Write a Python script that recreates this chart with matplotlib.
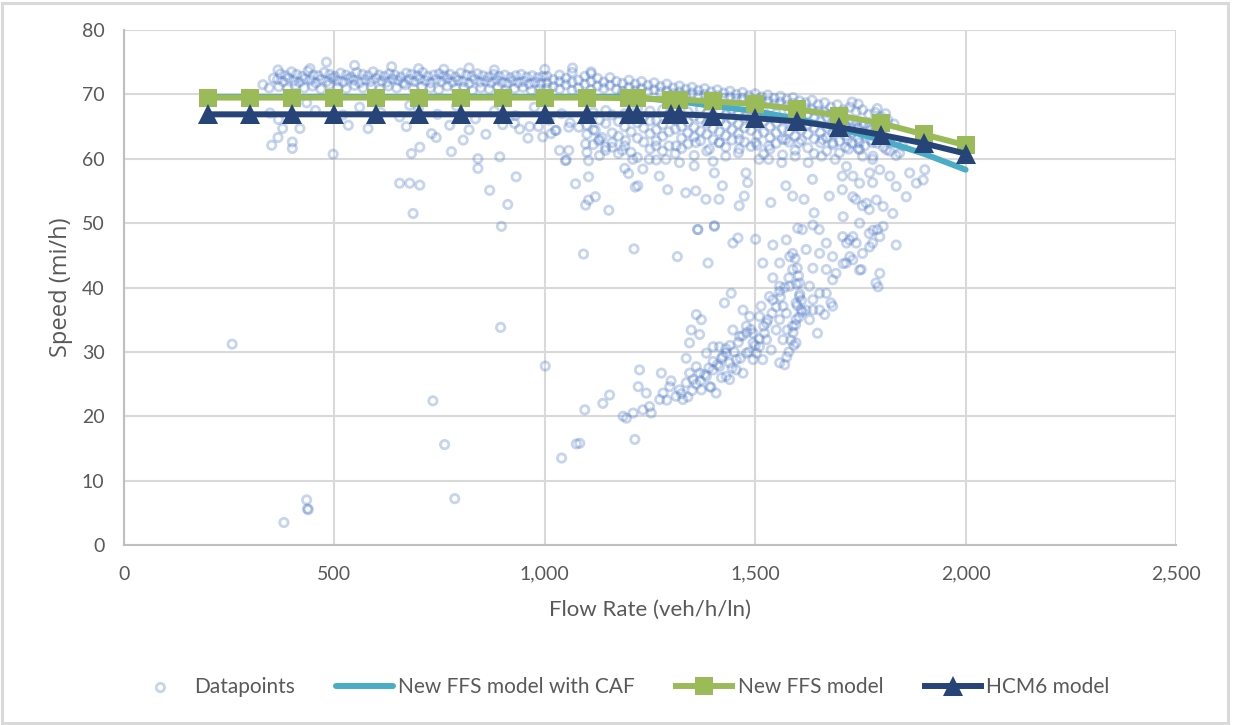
import matplotlib
matplotlib.use("Agg")
import matplotlib.pyplot as plt
from matplotlib.patches import Rectangle
from matplotlib.ticker import FuncFormatter, MultipleLocator

plt.rcParams['font.family'] = ['Lato', 'DejaVu Sans']

# ---------------- model curves ----------------
model_flow = [200, 300, 400, 500, 600, 700, 800, 900, 1000, 1100, 1200, 1220,
              1300, 1320, 1400, 1500, 1600, 1700, 1800, 1900, 2000]
caf_speed = [69.6, 69.6, 69.6, 69.6, 69.6, 69.6, 69.6, 69.6, 69.6, 69.6, 69.6, 69.5,
             69.0, 68.9, 68.2, 67.4, 66.2, 64.7, 62.9, 60.8, 58.3]
ffs_speed = [69.5, 69.5, 69.5, 69.5, 69.5, 69.5, 69.5, 69.5, 69.5, 69.5, 69.4, 69.4,
             69.2, 69.2, 68.9, 68.5, 67.7, 66.7, 65.5, 63.8, 62.1]
hcm6_speed = [66.9, 66.9, 66.9, 66.9, 66.9, 66.9, 66.9, 66.9, 66.9, 66.9, 66.9, 66.9,
              66.9, 66.9, 66.7, 66.3, 65.8, 64.9, 63.7, 62.4, 60.8]

# ---------------- observed datapoints (flow, speed) ----------------
band_top = [(372,73.2),(385,72.9),(398,73.5),(410,73.1),(423,72.8),(437,73.6),(450,73.0),(462,72.9),
            (476,73.4),(489,73.1),(501,72.8),(515,73.3),(528,73.0),(540,72.7),(553,73.4),(567,73.1),
            (580,72.9),(592,73.5),(606,73.0),(619,72.8),(631,73.2),(644,73.0),(658,72.7),(671,73.3),
            (683,73.1),(697,72.9),(710,73.4),(722,72.8),(736,73.0),(749,73.2),(761,72.9),(775,73.1),
            (788,72.7),(800,73.3),(814,73.0),(827,72.8),(840,73.2),(853,72.9),(866,72.7),(879,73.1),
            (892,72.8),(905,73.0),(918,72.6),(931,72.9),(944,73.1),(957,72.7),(970,72.9),(983,72.6),
            (996,72.8)]
band_mid = [(365,72.3),(378,72.0),(391,72.5),(404,72.1),(417,71.9),(430,72.4),(443,72.2),(456,71.8),
            (469,72.3),(482,72.0),(495,72.5),(508,72.1),(521,71.9),(534,72.4),(547,72.2),(560,71.8),
            (573,72.3),(586,72.0),(599,72.5),(612,72.1),(625,71.9),(638,72.4),(651,72.2),(664,71.8),
            (677,72.3),(690,72.0),(703,72.4),(716,72.1),(729,71.8),(742,72.3),(755,72.0),(768,72.4),
            (781,71.9),(794,72.2),(807,72.0),(820,71.7),(833,72.3),(846,71.9),(859,72.1),(872,71.8),
            (885,72.2),(898,71.9),(911,71.7),(924,72.1),(937,71.8),(950,72.0),(963,71.6),(976,71.9),
            (989,71.7)]
band_low = [(368,71.2),(388,70.9),(408,71.4),(428,71.0),(448,71.3),(468,70.8),(488,71.5),(508,71.1),
            (528,70.9),(548,71.4),(568,71.0),(588,71.2),(608,70.8),(628,71.3),(648,71.0),(668,71.5),
            (688,70.9),(708,71.2),(728,71.0),(748,70.7),(768,71.3),(788,70.9),(808,71.1),(828,70.6),
            (848,71.0),(868,70.8),(888,71.2),(908,70.7),(928,70.9),(948,71.1),(968,70.6),(988,70.8),
            (330,71.5),(345,71.0),(355,72.5)]
band_above = [(481,75.0),(548,74.5),(636,74.3),(442,74.0),(366,73.8),(1066,74.1),(1110,73.5),
              (700,74.0),(760,73.9),(820,74.1),(880,73.8),(1000,73.9)]
band_right = [(1005,72.8),(1005,71.8),(1005,70.9),(1020,72.3),(1020,71.2),(1035,73.0),(1035,72.0),
              (1035,70.8),(1050,72.5),(1050,71.5),(1065,73.4),(1065,71.9),(1065,70.6),(1080,72.2),
              (1080,71.0),(1095,72.8),(1095,71.6),(1110,73.2),(1110,72.0),(1110,70.7),(1125,72.5),
              (1125,71.3),(1140,71.9),(1140,70.9),(1155,72.6),(1155,71.4),(1170,72.0),(1170,70.8),
              (1185,71.7),(1185,70.5),(1200,72.2),(1200,71.1),(1215,71.6),(1215,70.6),(1230,72.0),
              (1230,70.9),(1245,71.4),(1245,70.4),(1260,71.8),(1260,70.7),(1275,71.2),(1275,70.3),
              (1290,71.6),(1290,70.5),(1305,71.0),(1305,70.1),(1320,71.3),(1320,70.4),(1335,70.8),
              (1335,69.9),(1350,71.1),(1350,70.2),(1365,70.6),(1365,69.8),(1380,70.9),(1380,70.0),
              (1395,70.4),(1395,69.6),(1410,70.7),(1410,69.8),(1425,70.2),(1425,69.4),(1440,70.5),
              (1440,69.6),(1455,70.0),(1455,69.2),(1470,70.3),(1470,69.4),(1485,69.8),(1485,69.0),
              (1500,70.1),(1500,69.2),(1515,69.6),(1515,68.8),(1530,69.9),(1530,69.0),(1545,69.4),
              (1545,68.5),(1560,69.7),(1560,68.8),(1575,69.2),(1575,68.3),(1590,69.5),(1590,68.6),
              (1605,69.0),(1605,68.0),(1620,68.7),(1620,67.8),(1635,69.1),(1635,67.6),(1650,68.4),
              (1650,67.4),(1665,68.7),(1665,67.2),(1680,68.0),(1680,66.9),(1695,68.4),(1695,66.6),
              (1710,67.6),(1710,66.3),(1725,68.0),(1725,66.0),(1740,67.3),(1740,65.7),(1755,67.6),
              (1755,65.4),(1770,66.9),(1770,65.0),(1785,67.2),(1785,64.8),(1800,66.5),(1800,64.4),
              (1815,66.0),(1830,65.4),(1730,68.8),(1745,68.5),(1790,67.8),(1810,67.0)]
mid_cloud = [(1100,66.5),(1100,65.2),(1100,63.8),(1100,61.0),(1115,67.2),(1115,64.5),(1115,62.2),
             (1130,66.0),(1130,63.0),(1130,60.5),(1145,67.5),(1145,65.5),(1145,61.8),(1160,66.8),
             (1160,64.0),(1160,62.5),(1175,65.8),(1175,63.5),(1175,60.8),(1190,67.0),(1190,65.0),
             (1190,62.0),(1190,58.5),(1205,66.2),(1205,64.2),(1205,61.0),(1220,67.8),(1220,65.6),
             (1220,63.2),(1220,60.2),(1235,66.5),(1235,64.8),(1235,62.6),(1250,67.4),(1250,65.9),
             (1250,63.9),(1250,61.5),(1265,66.0),(1265,64.5),(1265,62.8),(1265,59.8),(1280,67.6),
             (1280,65.3),(1280,63.5),(1280,61.2),(1295,66.8),(1295,64.2),(1295,62.0),(1310,67.9),
             (1310,66.0),(1310,64.6),(1310,60.8),(1325,66.4),(1325,65.0),(1325,63.2),(1325,61.6),
             (1340,67.3),(1340,65.7),(1340,64.0),(1340,62.3),(1355,66.6),(1355,64.9),(1355,63.4),
             (1355,60.5),(1370,67.8),(1370,66.2),(1370,64.3),(1370,62.8),(1385,67.0),(1385,65.5),
             (1385,63.8),(1385,61.2),(1400,66.3),(1400,64.7),(1400,63.0),(1400,59.6),(1415,67.5),
             (1415,65.9),(1415,64.2),(1415,62.5),(1430,66.8),(1430,65.2),(1430,63.6),(1430,61.8),
             (1445,67.7),(1445,66.1),(1445,64.5),(1445,62.9),(1460,67.1),(1460,65.4),(1460,63.9),
             (1460,60.9),(1475,66.4),(1475,64.8),(1475,62.6),(1490,67.6),(1490,66.0),(1490,64.4),
             (1490,61.9),(1505,66.9),(1505,65.3),(1505,63.7),(1505,62.1),(1520,67.3),(1520,65.8),
             (1520,64.1),(1520,60.7),(1535,66.6),(1535,65.0),(1535,63.3),(1535,61.5),(1550,67.0),
             (1550,65.6),(1550,64.0),(1550,62.4),(1565,66.2),(1565,64.6),(1565,63.0),(1565,60.6),
             (1580,67.4),(1580,65.9),(1580,64.3),(1580,62.6),(1595,66.7),(1595,65.1),(1595,63.5),
             (1595,61.3),(1610,66.0),(1610,64.5),(1610,62.9),(1625,66.9),(1625,65.3),(1625,63.8),
             (1625,61.7),(1640,66.3),(1640,64.8),(1640,63.1),(1640,60.8),(1655,65.8),(1655,64.1),
             (1655,62.5),(1670,66.5),(1670,64.9),(1670,63.3),(1670,61.2),(1685,65.5),(1685,63.9),
             (1685,62.2),(1700,66.0),(1700,64.4),(1700,62.7),(1700,60.9),(1715,65.2),(1715,63.6),
             (1715,61.8),(1730,65.7),(1730,64.0),(1730,62.4),(1745,64.8),(1745,63.2),(1745,61.6),
             (1760,65.3),(1760,63.7),(1760,62.0),(1775,64.5),(1775,62.9),(1790,64.0),(1790,62.4),
             (1805,63.5),(1805,61.8),(1820,63.0),(1820,61.2),(1835,62.5),(1835,60.5),(1850,62.0)]
mid_sparse = [(1221,55.8),(1272,57.3),(1292,55.2),(1335,54.7),(1359,55.0),(1383,53.7),(1403,57.8),
              (1422,55.8),(1414,53.7),(1363,49.0),(1403,49.6),(1462,52.7),(1474,54.2),(1478,57.8),
              (1482,56.3),(1537,53.2),(1573,55.8),(1589,54.2),(1616,53.7),(1640,51.6),(1652,49.0),
              (1676,54.2),(1707,55.2),(1739,53.7),(1755,52.7),(1779,56.3),(1771,52.1),(1707,57.3),
              (1636,56.8),(1612,49.0),(1509,59.9),(1532,59.9),(1563,59.4),(1595,60.4),(1626,59.4),
              (1658,60.4),(1690,59.9),(1722,61.5),(1755,60.4),(1779,59.9),(1233,58.4),(1248,59.9),
              (1288,59.9),(1320,59.4),(1355,58.9),(1391,61.5),(1430,60.4),(1462,61.5),(1209,59.9),
              (1312,62.0),(1264,62.0),(1359,62.5),(1414,62.5),(1462,63.0),(1501,62.5),(1532,62.0),
              (1573,63.0),(1604,62.5),(1660,63.0),(1684,62.5),(1720,63.0),(1747,62.5),(1779,62.5)]
right_edge = [(1717,58.8),(1732,57.3),(1748,56.2),(1772,57.8),(1796,58.3),(1820,57.3),(1835,55.7),
              (1859,54.1),(1867,57.8),(1883,56.2),(1903,58.3),(1899,56.7),(1843,60.9),(1812,61.4),
              (1780,60.4),(1748,61.4),(1732,54.1),(1764,53.1),(1788,53.6),(1804,52.6),(1827,51.5),
              (1709,51.0),(1748,50.0),(1780,48.9),(1804,49.5),(1717,46.9),(1732,47.9),(1772,46.3),
              (1835,46.6),(1796,47.9),(1725,44.8),(1748,42.7),(1796,42.2),(1792,40.1),(1709,43.7)]
low_free = [(351,62.1),(366,63.3),(400,62.6),(400,61.6),(418,64.7),(377,64.7),(367,66.1),(347,67.1),
            (497,60.7),(533,65.2),(580,64.7),(671,65.0),(683,60.8),(703,61.8),(731,63.9),(742,63.3),
            (774,65.2),(778,61.1),(806,62.9),(841,60.0),(841,58.5),(893,60.3),(932,57.2),(869,55.1),
            (912,52.9),(897,49.5),(655,56.2),(679,56.2),(703,55.9),(687,51.5),(964,65.0),(995,63.4),
            (1027,64.4),(1035,61.3),(1051,59.8),(928,65.5),(679,68.3),(434,68.7),(455,67.5),
            (520,66.8),(560,68.0),(610,67.2),(655,66.5),(700,67.8),(745,66.9),(790,68.2),(835,66.2),
            (880,67.4),(930,66.7),(975,68.0),(1010,66.0),(1040,67.0),(1060,65.6),(985,65.0),
            (940,64.6),(900,65.3),(860,63.8),(820,64.5),(960,63.2),(1015,63.9),(1073,56.1),
            (1104,57.2),(1104,53.6),(1120,54.1),(1097,52.8),(1152,52.0),(1104,59.7),(1144,61.3),
            (1160,61.8),(1184,61.3),(1199,57.7),(1215,55.6),(1120,64.4),(1097,62.3),(1128,62.8),
            (1081,64.9),(1136,63.3),(1057,64.9),(1192,62.8),(1057,61.3),(1049,59.7),(1025,64.4)]
congested = [(1092,45.2),(1212,46.0),(1315,44.8),(1388,43.8),(1364,49.0),(1403,49.5),(1447,46.9),
             (1459,47.7),(1501,47.5),(1518,43.8),(1542,46.6),(1574,47.4),(1601,49.2),(1637,49.7),
             (1542,41.5),(1582,44.8),(1589,42.8),(1637,43.0),(1653,45.3),(1669,42.8),(1692,42.2),
             (1684,41.2),(1708,47.9),(1724,47.4),(1740,46.9),(1752,42.8),(1779,46.9),(1791,49.0),
             (1787,40.7),(1732,44.3),(1558,39.4),(1542,38.1),(1566,37.1),(1597,37.6),(1605,38.6),
             (1609,36.5),(1637,36.5),(1669,39.1),(1684,37.1),(1665,35.8),(1597,35.0),(1589,34.0),
             (1558,35.0),(1527,34.5),(1648,32.9),(1597,31.4),(1558,28.3),(1510,35.5),(1487,35.5),
             (1471,36.5),(1443,39.1),(1427,37.6),(1360,35.8),(1372,35.0),(1348,33.4),(1368,32.7),
             (1344,31.4),(1336,29.0),(1400,30.8),(1423,29.3),(1447,33.4),(1463,32.4),(1479,34.0),
             (1495,31.4),(1503,29.8),(1518,28.8),(1510,30.8),(1527,31.9),(1538,30.3),(1479,29.8),
             (1455,28.8),(1439,28.3),(1431,29.8),(1415,27.7),(1400,27.2),(1384,26.2),(1368,26.7),
             (1352,25.7),(1336,25.2),(1320,24.1),(1312,23.1),(1328,22.6),(1297,24.6),(1281,23.6),
             (1277,26.7),(1273,22.6),(1249,21.5),(1225,27.2),(1222,24.6),(1241,23.6),(1253,20.5),
             (1233,21.0),(1210,20.5),(1194,19.7),(1186,20.0),(1214,16.4),(1154,23.3),(1138,22.0),
             (1095,21.0),(1083,15.8),(1384,29.8),(1415,30.8),(1392,24.6),(1407,23.6),(1431,26.2),
             (1455,27.2),(1471,26.7),(1495,28.8),(1439,25.7),(1360,27.7),(1372,24.1),(1344,26.7),
             (1495,32.9),(1522,32.9),(1550,33.4),(1574,36.0),(1621,36.5),(1637,38.1),(1653,36.5),
             (1680,37.6),(1629,35.0),(1576,33.4),(1566,31.9),(1514,37.1),(1534,38.6),(1558,40.2),
             (1582,40.2),(1605,40.7),(1629,40.2),(1653,39.1),(1558,43.8),(1589,45.3),(1621,45.9),
             (1669,46.9),(1684,44.8),(1716,43.8),(1755,45.3),(1771,48.4),(1595,44.5),(1600,43.0),
             (1603,41.8),(1598,40.5),(1606,39.0),(1610,38.0),(1600,37.2),(1612,36.2),(1604,35.4),
             (1596,34.2),(1590,33.0),(1585,31.8),(1592,31.0),(1580,30.0),(1575,29.2),(1570,28.0),
             (1340,23.0),(1350,24.0),(1360,25.0),(1370,25.5),(1380,26.5),(1390,27.5),(1400,28.5),
             (1410,28.0),(1420,29.0),(1430,30.5),(1440,31.0),(1450,30.0),(1460,31.5),(1470,32.5),
             (1480,33.0),(1490,33.5),(1500,31.0),(1510,32.0),(1520,34.0),(1530,35.0),(1540,36.0),
             (1550,37.0),(1560,38.5),(1570,40.0),(1580,41.5),(1325,23.5),(1300,25.5),(1290,22.5),
             (1395,24.5),(1420,26.0),(1445,27.5),(1465,29.0),(1485,30.0)]
outliers = [(257,31.2),(380,3.5),(434,7.0),(436,5.6),(438,5.5),(734,22.4),(762,15.6),(786,7.2),
            (895,33.8),(1001,27.8),(1040,13.5),(1075,15.7)]

clusters = [band_top, band_mid, band_low, band_above, band_right, mid_cloud, mid_sparse,
            right_edge, low_free, congested, outliers]
pts_flow = [p[0] for c in clusters for p in c]
pts_speed = [p[1] for c in clusters for p in c]

# ---------------- styling ----------------
TXT = '#595959'
GRID = '#d9d9d9'
C_DOT = (0.27, 0.45, 0.77, 0.30)
C_CAF = '#4bacc6'
C_FFS = '#9bbb59'
C_HCM = '#264478'

W, H = 1233, 725
fig = plt.figure(figsize=(W / 100, H / 100), dpi=100)
fig.patches.append(Rectangle((0.002, 0.003), 0.994, 0.993, transform=fig.transFigure,
                             fill=False, edgecolor=GRID, linewidth=2.2))

ax = fig.add_axes([124 / W, (H - 545) / H, (1176 - 124) / W, (545 - 30) / H])
ax.scatter(pts_flow, pts_speed, s=36, facecolors='none', edgecolors=C_DOT,
           linewidths=2.0, label='Datapoints', zorder=2)
ax.plot(model_flow, caf_speed, color=C_CAF, lw=4.3, solid_capstyle='round',
        label='New FFS model with CAF', zorder=3)
ax.plot(model_flow, ffs_speed, color=C_FFS, lw=4.3, marker='s', markersize=13.5,
        markeredgewidth=0, label='New FFS model', zorder=4)
ax.plot(model_flow, hcm6_speed, color=C_HCM, lw=4.3, marker='^', markersize=14,
        markeredgewidth=0, label='HCM6 model', zorder=5)

ax.set_xlim(0, 2500)
ax.set_ylim(0, 80)
ax.xaxis.set_major_locator(MultipleLocator(500))
ax.yaxis.set_major_locator(MultipleLocator(10))
ax.xaxis.set_major_formatter(FuncFormatter(lambda v, p: f'{int(v):,}'))
ax.grid(True, color=GRID, linewidth=1.5, zorder=0)
ax.set_axisbelow(True)
for s in ['top', 'right']:
    ax.spines[s].set_visible(False)
for s in ['left', 'bottom']:
    ax.spines[s].set_color('#bfbfbf')
    ax.spines[s].set_linewidth(1.5)
ax.tick_params(axis='both', length=0, labelsize=14, colors=TXT)
ax.tick_params(axis='x', pad=15)
ax.tick_params(axis='y', pad=14)
ax.set_xlabel('Flow Rate (veh/h/ln)', fontsize=16, color=TXT, labelpad=12)
ax.set_ylabel('Speed (mi/h)', fontsize=17, color=TXT, labelpad=6,
              family=['Open Sans', 'DejaVu Sans'])

leg = fig.legend(loc='center', bbox_to_anchor=(621 / W, (H - 687) / H), ncol=4, frameon=False,
                 fontsize=15, handlelength=2.7, handletextpad=0.25, columnspacing=2.0)
for t in leg.get_texts():
    t.set_color(TXT)

fig.savefig('out.png', dpi=100)
